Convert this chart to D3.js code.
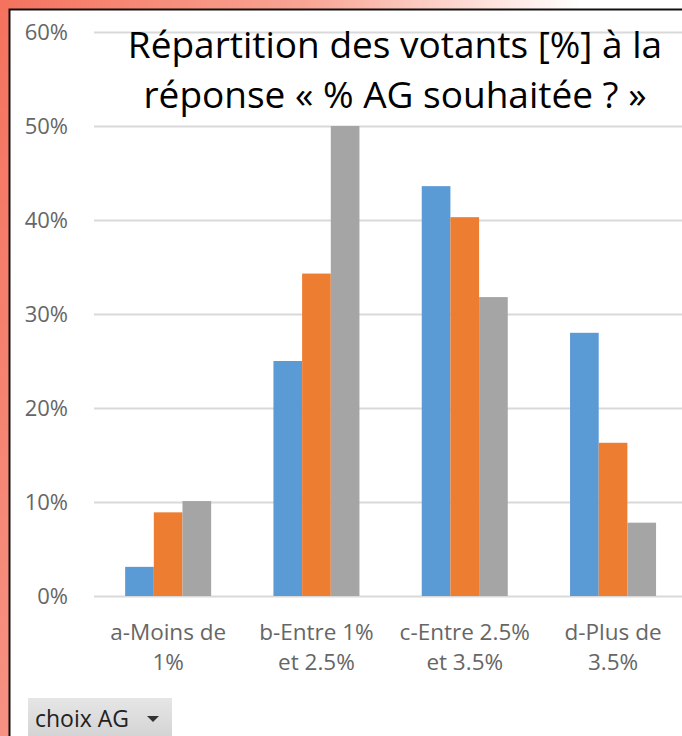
<!DOCTYPE html>
<html>
<head>
<meta charset="utf-8">
<script src="https://cdn.jsdelivr.net/npm/d3@7"></script>
<style>
  html, body { margin: 0; padding: 0; background: #fff; }
  svg { display: block; }
</style>
</head>
<body>
<div class="chart"></div>
<script>
// categories (two lines each) and the three series, in percent
var categories = ["a-Moins de|1%", "b-Entre 1%|et 2.5%", "c-Entre 2.5%|et 3.5%", "d-Plus de|3.5%"];
var seriesNames = ["s1", "s2", "s3"];
var serie1 = [3.1, 25.0, 43.6, 28.0];
var serie2 = [8.9, 34.3, 40.3, 16.3];
var serie3 = [10.1, 50.0, 31.8, 7.8];
var yTicks = [0, 10, 20, 30, 40, 50, 60];
var titleLines = ["Répartition des votants [%] à la", "réponse « % AG souhaitée ? »"];
var colors = ["#5B9BD5", "#ED7D31", "#A5A5A5"];

var width = 682, height = 736;
var font = "'Open Sans', Lato, sans-serif";

var svg = d3.select(".chart").append("svg")
    .attr("width", width)
    .attr("height", height);

/************* background frame ***************/
var defs = svg.append("defs");
var grad = defs.append("linearGradient")
    .attr("id", "bg").attr("x1", 0).attr("y1", 0).attr("x2", 1).attr("y2", 0);
grad.append("stop").attr("offset", "0%").attr("stop-color", "#F4725E");
grad.append("stop").attr("offset", "45%").attr("stop-color", "#F9A594");
grad.append("stop").attr("offset", "85%").attr("stop-color", "#FFFFFF");
var gradV = defs.append("linearGradient")
    .attr("id", "bgv").attr("x1", 0).attr("y1", 0).attr("x2", 0).attr("y2", 1);
gradV.append("stop").attr("offset", "0%").attr("stop-color", "#fff").attr("stop-opacity", 0);
gradV.append("stop").attr("offset", "100%").attr("stop-color", "#fff").attr("stop-opacity", 0.22);

svg.append("rect").attr("width", width).attr("height", height).attr("fill", "url(#bg)");
svg.append("rect").attr("width", width).attr("height", height).attr("fill", "url(#bgv)");
svg.append("rect")
    .attr("x", 10).attr("y", 10)
    .attr("width", width).attr("height", height)
    .attr("fill", "#fff");
svg.append("path")
    .attr("d", "M9.5," + height + "V9.5H" + width)
    .attr("fill", "none").attr("stroke", "#111").attr("stroke-width", 2);

/************* scales ***************/
var x = d3.scaleBand()
    .domain(categories)
    .range([94, 687.2])
    .paddingInner(0.42)
    .paddingOuter(0.21);

var xs = d3.scaleBand()
    .domain(seriesNames)
    .range([0, x.bandwidth()]);

var y = d3.scaleLinear()
    .domain([0, 60])
    .range([596, 32]);

/************* gridlines + y axis ***************/
var yAxis = d3.axisLeft(y)
    .tickValues(yTicks)
    .tickSize(-(687.2 - 94))
    .tickPadding(26)
    .tickFormat(function(d) { return d + "%"; });

var gy = svg.append("g")
    .attr("class", "y axis")
    .attr("transform", "translate(94,0)")
    .call(yAxis);
gy.select(".domain").remove();
gy.selectAll(".tick line").attr("stroke", "#D9D9D9").attr("stroke-width", 2);
gy.selectAll(".tick text")
    .attr("fill", "#666")
    .style("font-family", font)
    .style("font-size", "22px")
    .attr("dy", "0.36em");

/************* bars ***************/
var rows = categories.map(function(c, i) {
    return { cat: c, values: [serie1[i], serie2[i], serie3[i]] };
});

var groups = svg.append("g").attr("class", "bars")
    .selectAll("g")
    .data(rows)
    .enter().append("g")
        .attr("transform", function(d) { return "translate(" + x(d.cat) + ",0)"; });

groups.selectAll("rect")
    .data(function(d) { return d.values.map(function(v, j) { return { key: seriesNames[j], value: v, j: j }; }); })
    .enter().append("rect")
        .attr("x", function(d) { return xs(d.key); })
        .attr("width", xs.bandwidth())
        .attr("y", function(d) { return y(d.value); })
        .attr("height", function(d) { return y(0) - y(d.value); })
        .attr("fill", function(d) { return colors[d.j]; });

/************* x labels ***************/
var xl = svg.append("g").attr("class", "x labels")
    .selectAll("text")
    .data(categories)
    .enter().append("text")
        .attr("text-anchor", "middle")
        .attr("fill", "#666")
        .style("font-family", font)
        .style("font-size", "22.5px");
xl.each(function(d) {
    var t = d3.select(this);
    d.split("|").forEach(function(line, k) {
        t.append("tspan")
            .attr("x", x(d) + x.bandwidth() / 2)
            .attr("y", 640 + k * 30)
            .text(line);
    });
});

/************* title ***************/
svg.append("g").attr("class", "title")
    .selectAll("text")
    .data(titleLines)
    .enter().append("text")
        .attr("x", 395)
        .attr("y", function(d, i) { return 58 + i * 50; })
        .attr("text-anchor", "middle")
        .attr("fill", "#000")
        .style("font-family", font)
        .style("font-size", "37px")
        .text(function(d) { return d; });

/************* filter button ***************/
var bgrad = defs.append("linearGradient")
    .attr("id", "btn").attr("x1", 0).attr("y1", 0).attr("x2", 0).attr("y2", 1);
bgrad.append("stop").attr("offset", "0%").attr("stop-color", "#E6E6E6");
bgrad.append("stop").attr("offset", "100%").attr("stop-color", "#D2D2D2");

var btn = svg.append("g").attr("class", "filter");
btn.append("rect")
    .attr("x", 28).attr("y", 698)
    .attr("width", 144).attr("height", 42)
    .attr("fill", "url(#btn)");
btn.append("text")
    .attr("x", 35).attr("y", 727)
    .attr("fill", "#222")
    .style("font-family", font)
    .style("font-size", "23px")
    .text("choix AG");
btn.append("path")
    .attr("d", "M147,716h12l-6,6z")
    .attr("fill", "#333");
</script>
</body>
</html>
